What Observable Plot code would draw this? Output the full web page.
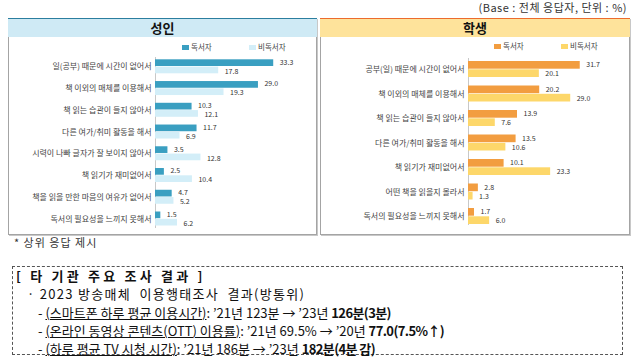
<!DOCTYPE html>
<html><head><meta charset="utf-8">
<script src="https://cdn.jsdelivr.net/npm/d3@7"></script>
<script src="https://cdn.jsdelivr.net/npm/@observablehq/plot@0.6"></script>
<style>
body{margin:0;width:637px;height:363px;position:relative;background:#fff;overflow:hidden;font-family:"Noto Sans CJK KR","Noto Sans",sans-serif;color:#222}
.abs{position:absolute;white-space:nowrap}
.panel{position:absolute;top:18px;height:217px;border:1px solid #a4a4a4;border-top:none;box-sizing:border-box;box-shadow:1px 1px 0 #c8c8c8}
.hdr{position:absolute;top:18px;height:19px;box-sizing:border-box;text-align:center;font-weight:bold;font-size:13px;line-height:18px;color:#111}
.leg{position:absolute;font-size:7.5px;line-height:8px;color:#444;white-space:nowrap}
.sw{display:inline-block;width:7px;height:5px;margin-right:2px;vertical-align:0px}
.line{position:absolute;white-space:nowrap;font-size:13px;line-height:16px;color:#111}
.u{text-decoration:underline;text-underline-offset:1px;text-decoration-thickness:1px}
b{font-weight:bold;letter-spacing:-0.6px}
</style></head>
<body>
<div class="abs" style="right:10px;top:0px;font-size:11px;line-height:14px;color:#333;letter-spacing:0.5px">(Base : 전체 응답자, 단위 : %)</div>

<div class="panel" style="left:8px;width:309px"></div>
<div class="hdr" style="left:8px;width:309px;background:#cfeaf5;border-top:1.5px solid #2b7e9f">성인</div>
<div class="panel" style="left:320px;width:310px"></div>
<div class="hdr" style="left:320px;width:310px;background:#fee39b;border-top:1.5px solid #ec6b2d">학생</div>

<div class="leg" style="left:182px;top:43px"><span class="sw" style="background:#3a9fc1"></span>독서자</div>
<div class="leg" style="left:249px;top:43px"><span class="sw" style="background:#d3eef8"></span>비독서자</div>
<div class="leg" style="left:494px;top:42px"><span class="sw" style="background:#f29d40"></span>독서자</div>
<div class="leg" style="left:561px;top:42px"><span class="sw" style="background:#fdd76a"></span>비독서자</div>

<div id="left" class="abs" style="left:8px;top:37px"></div>
<div id="right" class="abs" style="left:320px;top:37px"></div>

<div class="abs" style="left:14px;top:235px;font-size:11px;line-height:15px;color:#333;letter-spacing:1px">* 상위 응답 제시</div>

<div class="abs" style="left:12px;top:266px;width:611px;height:89px;box-sizing:border-box;border:1px dashed #555"></div>
<div class="line" style="left:16px;top:268px;font-weight:bold;letter-spacing:3.2px">[ 타 기관 주요 조사 결과 ]</div>
<div class="line" style="left:27px;top:286px;letter-spacing:1.3px">· 2023 방송매체&nbsp; 이용행태조사&nbsp; 결과(방통위)</div>
<div class="line" style="left:38px;top:305px">- <span class="u">(스마트폰 하루 평균 이용시간)</span>: ’21년 123분 → ’23년 <b>126분(3분)</b></div>
<div class="line" style="left:38px;top:323px">- <span class="u">(온라인 동영상 콘텐츠(OTT) 이용률)</span>: ’21년 69.5% → ’20년 <b>77.0(7.5%↑)</b></div>
<div class="line" style="left:38px;top:341px">- <span class="u">(하루 평균 TV 시청 시간)</span>: ’21년 186분 → ’23년 <b>182분(4분 감)</b></div>

<script>
const adultCategories = ["일(공부) 때문에 시간이 없어서","책 이외의 매체를 이용해서","책 읽는 습관이 들지 않아서","다른 여가/취미 활동을 해서","시력이 나빠 글자가 잘 보이지 않아서","책 읽기가 재미없어서","책을 읽을 만한 마음의 여유가 없어서","독서의 필요성을 느끼지 못해서"];
const adultReaders = [33.3, 29.0, 10.3, 11.7, 3.5, 2.5, 4.7, 1.5];
const adultNonReaders = [17.8, 19.3, 12.1, 6.9, 12.8, 10.4, 5.2, 6.2];

const studentCategories = ["공부(일) 때문에 시간이 없어서","책 이외의 매체를 이용해서","책 읽는 습관이 들지 않아서","다른 여가/취미 활동을 해서","책 읽기가 재미없어서","어떤 책을 읽을지 몰라서","독서의 필요성을 느끼지 못해서"];
const studentReaders = [31.7, 20.2, 13.9, 13.5, 10.1, 2.8, 1.7];
const studentNonReaders = [20.1, 29.0, 7.6, 10.6, 23.3, 1.3, 6.0];

function panel(cats, a, b, cA, cB, o) {
  const data = cats.map((c, i) => ({c, a: a[i], b: b[i]}));
  const step = (o.r1 - o.r0) / (cats.length - 1);
  const half = step / 2;
  return Plot.plot({
    width: o.width, height: 198,
    marginLeft: o.ml, marginRight: o.mr, marginTop: o.mt, marginBottom: o.mb,
    x: {domain: [0, 40], axis: null},
    y: {domain: cats, range: [o.r0 - half, o.r1 + half], padding: 0, round: false, axis: null},
    style: {fontFamily: '"Noto Sans CJK KR","Noto Sans",sans-serif', fontSize: "8px", color: "#333", background: "transparent"},
    marks: [
      Plot.ruleX([0], {stroke: "#c8c8c8", strokeWidth: 1}),
      Plot.barX(data, {x: "a", y: "c", fill: cA, insetTop: half - o.bh, insetBottom: half + 0.3}),
      Plot.barX(data, {x: "b", y: "c", fill: cB, insetTop: half + 0.3, insetBottom: half - o.bh}),
      Plot.text(data, {x: "a", y: "c", text: d => d.a.toFixed(1), dx: 6, dy: -4.3, textAnchor: "start", fill: "#333", fontSize: 7}),
      Plot.text(data, {x: "b", y: "c", text: d => d.b.toFixed(1), dx: 6, dy: 4.5, textAnchor: "start", fill: "#333", fontSize: 7}),
      Plot.text(data, {x: 0, y: "c", text: "c", dx: -4, textAnchor: "end", fill: "#444"})
    ]
  });
}

document.getElementById("left").append(panel(adultCategories, adultReaders, adultNonReaders, "#3a9fc1", "#d3eef8",
  {width: 308, ml: 147, mr: 19, mt: 20, mb: 7, r0: 29.3, r1: 181.5, bh: 7}));
document.getElementById("right").append(panel(studentCategories, studentReaders, studentNonReaders, "#f29d40", "#fdd76a",
  {width: 309, ml: 148, mr: 20, mt: 21, mb: 10, r0: 32, r1: 179, bh: 8}));
</script>
</body></html>
